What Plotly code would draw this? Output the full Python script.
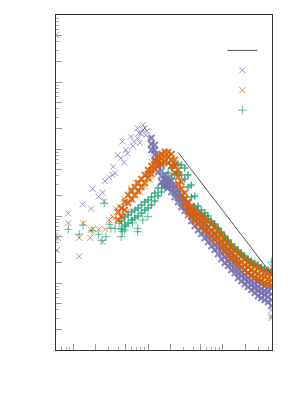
import plotly.graph_objects as go

# ---------------- data ----------------
band_x = [3.976, 4.405, 4.880, 5.407, 5.990, 6.637, 7.353, 8.147, 9.026,
          10.0, 11.08, 12.27, 13.59, 15.06, 16.68, 18.48, 20.48, 22.69, 25.14,
          27.85, 30.85, 34.18, 37.87, 41.96, 46.48, 51.5, 57.06, 63.2, 70.0,
          77.6, 85.9, 95.2, 105.5, 116.9, 129.5, 143.5, 159.0, 176.1, 195.1,
          216.2, 239.5, 265.4, 294.0, 325.7, 360.9, 399.8, 443.0]

purple_band = [[], [], [], [], [], [], [], [], [], [],
               [14.6, 11.9, 9.67],
               [11.5, 9.67, 8.14, 6.86],
               [8.14, 6.62, 5.58, 4.54],
               [5.77, 4.70, 3.96, 3.22],
               [4.09, 3.57, 3.11, 2.80],
               [3.69, 3.22, 2.90, 2.62],
               [3.33, 2.90, 2.62, 2.28],
               [2.90, 2.53, 2.21, 1.92],
               [2.44, 2.13, 1.86, 1.62],
               [2.06, 1.79, 1.56, 1.36],
               [1.79, 1.56, 1.36, 1.19],
               [1.56, 1.36, 1.19, 1.035],
               [1.41, 1.19, 1.0, 0.843],
               [1.23, 1.035, 0.872, 0.709],
               [1.07, 0.902, 0.760, 0.618],
               [0.934, 0.787, 0.662, 0.539],
               [0.814, 0.686, 0.577, 0.470],
               [0.686, 0.577, 0.486, 0.409],
               [0.597, 0.503, 0.424, 0.357],
               [0.521, 0.438, 0.369, 0.311],
               [0.470, 0.395, 0.333, 0.271],
               [0.395, 0.333, 0.280, 0.228],
               [0.345, 0.290, 0.244, 0.199],
               [0.300, 0.253, 0.213, 0.179],
               [0.262, 0.220, 0.186, 0.156],
               [0.228, 0.192, 0.162, 0.141],
               [0.199, 0.167, 0.141, 0.119],
               [0.173, 0.146, 0.127, 0.107],
               [0.156, 0.132, 0.115, 0.0967],
               [0.141, 0.119, 0.1035, 0.0872],
               [0.127, 0.107, 0.0934, 0.0787],
               [0.115, 0.0967, 0.0843, 0.0709],
               [0.1035, 0.0872, 0.0760, 0.0640],
               [0.0967, 0.0814, 0.0709, 0.0597],
               [0.0902, 0.0760, 0.0662, 0.0558],
               [0.0872, 0.0734, 0.0618, 0.0521],
               [0.0843, 0.0686, 0.0558, 0.0454]]

orange_band = [[1.147, 0.872], [1.316, 1.0], [1.618, 1.229], [2.058, 1.563],
               [2.362, 1.794], [2.710, 2.058], [3.109, 2.362], [3.567, 2.710],
               [4.093, 3.109],
               [4.861, 4.236, 3.692],
               [5.577, 4.861, 4.236],
               [6.623, 5.773, 5.031],
               [7.600, 6.623, 5.773],
               [8.425, 7.343, 6.183],
               [9.03, 7.60, 6.40],
               [9.03, 7.60, 6.18],
               [8.43, 6.86, 5.58],
               [6.86, 5.58, 4.39],
               [4.86, 3.82, 3.00],
               [3.22, 2.53, 1.99],
               [2.21, 1.79, 1.46],
               [1.62, 1.36, 1.15],
               [1.36, 1.15, 0.967],
               [1.19, 1.0, 0.843],
               [1.07, 0.902, 0.760],
               [1.0, 0.843, 0.686],
               [0.934, 0.760, 0.618],
               [0.843, 0.686, 0.558],
               [0.760, 0.618, 0.503],
               [0.686, 0.558, 0.454],
               [0.597, 0.486, 0.395],
               [0.521, 0.424, 0.345],
               [0.454, 0.369, 0.300],
               [0.395, 0.322, 0.262],
               [0.345, 0.290, 0.236],
               [0.311, 0.253, 0.213],
               [0.280, 0.228, 0.192],
               [0.253, 0.206, 0.173],
               [0.228, 0.186, 0.156],
               [0.206, 0.173, 0.141],
               [0.192, 0.156, 0.132],
               [0.179, 0.146, 0.123],
               [0.167, 0.136, 0.115],
               [0.156, 0.127, 0.107],
               [0.146, 0.123, 0.100],
               [0.141, 0.115, 0.0967],
               [0.136, 0.111, 0.0934]]

green_band = [[],
              [0.843, 0.640], [0.967, 0.734], [1.035, 0.787], [1.147, 0.872],
              [1.229, 0.934], [1.316, 1.0], [1.459, 1.109], [1.618, 1.229],
              [1.733, 1.316], [1.921, 1.459], [2.205, 1.675], [2.618, 1.989],
              [3.004, 2.282], [3.567, 2.710], [4.385, 3.218], [5.207, 3.692],
              [5.773, 4.236], [5.974, 4.385], [5.773, 4.093], [5.207, 3.567],
              [4.093, 2.710], [2.903, 1.921], [1.989, 1.363], [1.410, 1.188],
              [1.229, 1.071], [1.109, 1.0], [1.0, 0.902],
              [0.843, 0.787], [0.760, 0.709], [0.662, 0.618], [0.577, 0.539],
              [0.503, 0.470], [0.438, 0.409], [0.382, 0.357], [0.345, 0.322],
              [0.311, 0.290], [0.280, 0.262], [0.253, 0.236], [0.228, 0.213],
              [0.213, 0.199], [0.199, 0.186], [0.186, 0.173], [0.173, 0.162],
              [0.162, 0.151], [0.156, 0.146], [0.151, 0.141]]

purple_sparse_x = [0.588, 0.606, 0.858, 1.202, 1.335, 1.738, 1.814, 2.182, 2.466,
                   2.647, 3.02, 3.353, 3.631, 3.415, 3.908, 4.325, 4.786, 4.557,
                   5.044, 5.31, 5.88, 6.51, 7.22, 7.99, 8.58, 9.32, 10.31, 10.86,
                   11.45, 12.02, 7.22, 8.58, 7.52, 9.03, 9.61, 7.75, 6.25,
                   443.0, 443.0]
purple_sparse_y = [503, 0.311, 1.097, 0.250, 1.495, 1.285, 2.55, 1.94, 2.23,
                   3.33, 3.78, 4.09, 4.34, 5.45, 8.13, 7.26, 6.25, 12.9,
                   9.66, 8.63, 15.3, 12.9, 14.4, 17.1, 19.2, 16.2, 14.4, 11.5,
                   8.63, 9.66, 20.4, 22.8, 17.3, 20.6, 18.6, 12.3, 11.1,
                   0.0395, 0.0322]

orange_sparse_x = [0.858, 1.359, 0.619, 1.202, 1.722, 1.849, 1.686, 2.182, 2.466,
                   2.671, 2.590, 3.020, 3.353, 3.522, 3.709, 4.105, 4.786, 4.325,
                   5.20, 6.25, 7.75, 6.85, 9.03, 10.54, 5.88, 11.2, 443.0, 443.0]
orange_sparse_y = [0.779, 0.779, 0.472, 0.472, 0.618, 0.633, 0.472, 0.633, 0.413,
                   0.633, 1.646, 0.872, 0.977, 0.925, 1.30, 1.38, 1.794, 0.977,
                   1.147, 1.733, 2.282, 3.109, 2.74, 3.447, 2.530, 6.40, 0.178, 0.030]

green_sparse_x = [0.858, 1.359, 1.202, 0.606, 1.776, 2.182, 2.414, 2.729, 2.590,
                  3.182, 3.631, 3.020, 4.105, 4.557, 5.044, 7.22, 7.29, 4.365,
                  4.845, 9.91, 6.19, 8.50, 443.0]
green_sparse_y = [0.633, 0.734, 0.533, 0.491, 0.603, 0.533, 0.428, 0.491, 1.55,
                  0.655, 0.655, 0.752, 0.779, 0.583, 0.692, 0.583, 0.655, 0.491,
                  0.618, 0.977, 0.787, 0.872, 0.206]

fit_x = [25.1, 442.0]
fit_y = [8.93, 0.137]

colors = {"purple": "#7570b3", "orange": "#d95f02", "green": "#1b9e77"}
symbols = {"purple": "x-thin-open", "orange": "x-thin-open",
           "green": "cross-thin-open"}
band_size = {"purple": 6, "orange": 6, "green": 5}
band_width = {"purple": 2, "orange": 2, "green": 1.5}


def flatten(xs, bands):
    ox, oy = [], []
    for x, ys in zip(xs, bands):
        for y in ys:
            ox.append(x)
            oy.append(y)
    return ox, oy


def mk(cname, size, width, opacity):
    c = colors[cname]
    return dict(symbol=symbols[cname], size=size, color=c, opacity=opacity,
                line=dict(color=c, width=width))


fig = go.Figure()

# dense bands: green lowest, then purple, then orange
for cname, band in [("green", green_band), ("purple", purple_band),
                    ("orange", orange_band)]:
    bx, by = flatten(band_x, band)
    fig.add_trace(go.Scatter(x=bx, y=by, mode="markers", showlegend=False,
                             hoverinfo="skip",
                             marker=mk(cname, band_size[cname],
                                       band_width[cname], 0.85)))

# scattered points (these carry the legend entries)
for cname, sx, sy, rank in [("purple", purple_sparse_x, purple_sparse_y, 2),
                            ("orange", orange_sparse_x, orange_sparse_y, 3),
                            ("green", green_sparse_x, green_sparse_y, 4)]:
    fig.add_trace(go.Scatter(x=sx, y=sy, mode="markers", name=" ",
                             legendrank=rank, marker=mk(cname, 6, 1, 0.7)))

fig.add_trace(go.Scatter(x=fit_x, y=fit_y, mode="lines", name=" ", legendrank=1,
                         line=dict(color="#555555", width=1)))

axis_common = dict(type="log", showgrid=False, zeroline=False,
                   showline=True, mirror=True, linecolor="#333333", linewidth=1,
                   ticks="inside", ticklen=6, tickcolor="#999999", tickwidth=1,
                   showticklabels=False,
                   minor=dict(ticks="inside", ticklen=3, tickcolor="#aaaaaa",
                              showgrid=False))

fig.update_xaxes(range=[-0.2306, 2.655], **axis_common)
fig.update_yaxes(range=[-2, 3], **axis_common)

fig.update_layout(
    width=292, height=392,
    margin=dict(l=48, r=28, t=7, b=50, pad=0),
    plot_bgcolor="white", paper_bgcolor="white",
    showlegend=True,
    legend=dict(x=0.77, y=0.939, xanchor="left", yanchor="top",
                bgcolor="rgba(0,0,0,0)", borderwidth=0,
                itemwidth=30, font=dict(size=13, family="DejaVu Sans"),
                tracegroupgap=0),
)

fig.write_html("out.html")
